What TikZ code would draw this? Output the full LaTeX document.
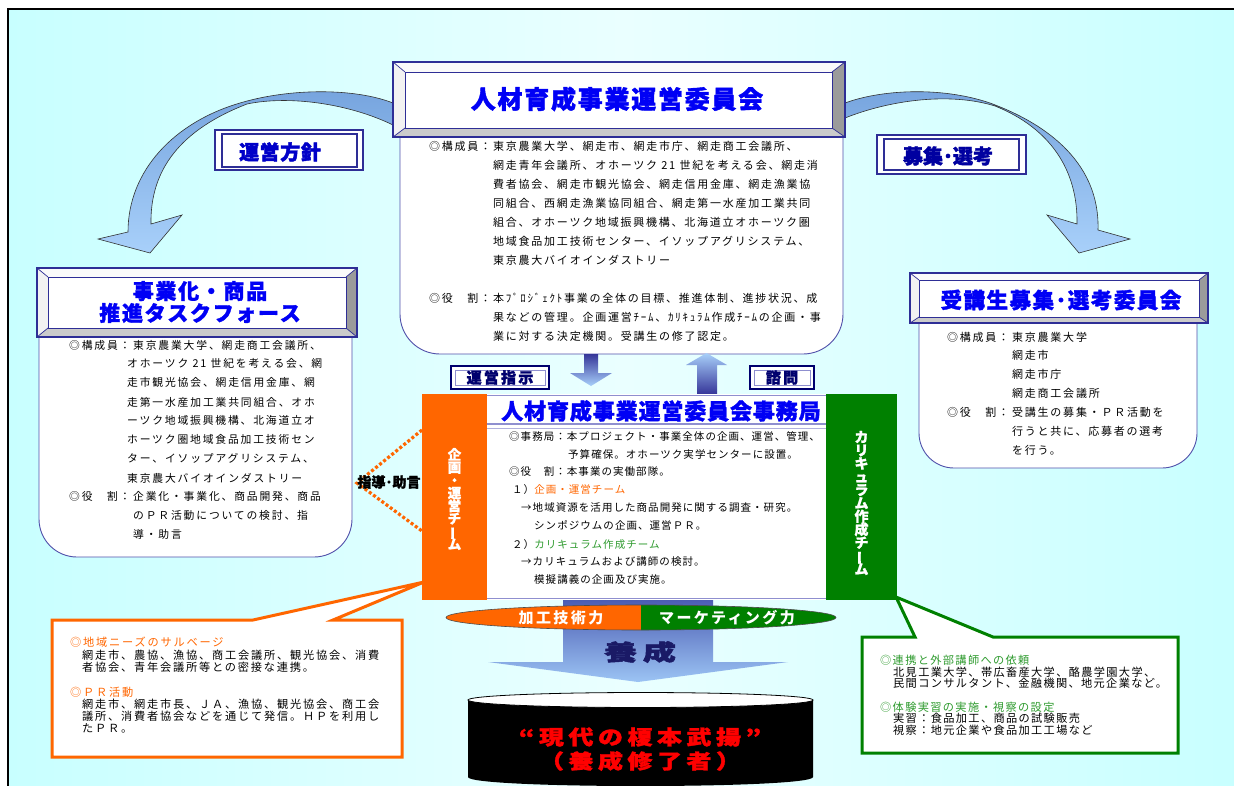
\documentclass[tikz,border=0pt]{standalone}
\usepackage{fontspec}
\usepackage{graphicx}
\setmainfont{Noto Sans CJK JP}
\definecolor{cyA}{HTML}{C8FFFF}
\definecolor{cyB}{HTML}{EAFFFF}
\definecolor{navy}{HTML}{2E2E96}
\definecolor{bline}{HTML}{5050AA}
\definecolor{tblue}{HTML}{0000F5}
\definecolor{orgc}{HTML}{FF6600}
\definecolor{grnc}{HTML}{008000}
\definecolor{grnt}{HTML}{2F9B2F}
\definecolor{arA}{HTML}{76A4DE}
\definecolor{arB}{HTML}{A8D0FA}
\definecolor{dkar}{HTML}{363699}
\definecolor{bevB}{HTML}{CBCBCB}
\definecolor{bevR}{HTML}{9B9B9B}
\definecolor{bevT}{HTML}{FAFAFA}
\definecolor{bevL}{HTML}{F2F2F2}
\definecolor{lav}{HTML}{8F8FCF}
\definecolor{lblue}{HTML}{0000C8}
\definecolor{lnavy}{HTML}{00006E}
\definecolor{ysei}{HTML}{1A1A66}
\definecolor{bigA}{HTML}{4858B0}
\definecolor{bigB}{HTML}{9CC4F4}

\newcounter{tlc}
\newcommand{\TL}[4]{\stepcounter{tlc}\node[#1] (tl\arabic{tlc}) at (#2,#3) {#4};}
\newcommand{\vbar}{\rotatebox[origin=c]{90}{ー}}
\newcommand{\bevbox}[8]{%
  \fill[white] (#1,#2) rectangle (#3,#4);
  \fill[bevT] (#1,#2) -- (#3,#2) -- (#7,#6) -- (#5,#6) -- cycle;
  \fill[bevL] (#1,#2) -- (#5,#6) -- (#5,#8) -- (#1,#4) -- cycle;
  \fill[bevB] (#1,#4) -- (#5,#8) -- (#7,#8) -- (#3,#4) -- cycle;
  \fill[bevR] (#3,#2) -- (#3,#4) -- (#7,#8) -- (#7,#6) -- cycle;
  \draw[navy, line width=0.7] (#1,#2) -- (#5,#6) (#3,#2) -- (#7,#6) (#1,#4) -- (#5,#8) (#3,#4) -- (#7,#8);
  \draw[navy, line width=0.9] (#5,#6) rectangle (#7,#8);
  \draw[navy, line width=1.3] (#1,#2) rectangle (#3,#4);
}

\tikzset{
  tl/.style={anchor=west, inner sep=0pt},
  fA/.style={tl, text height=9.7pt, text depth=1.3pt, font=\fontsize{11}{13}\selectfont\addfontfeature{LetterSpace=16}},
  fL/.style={tl, text height=9.5pt, text depth=1.3pt, font=\fontsize{10.8}{13}\selectfont\addfontfeature{LetterSpace=17}},
  fM/.style={tl, text height=9.2pt, text depth=1.3pt, font=\fontsize{10.5}{12}\selectfont\addfontfeature{LetterSpace=10}},
  fC/.style={tl, text height=9.8pt, text depth=1.3pt, font=\fontsize{11.2}{12}\selectfont\addfontfeature{LetterSpace=16}},
  fG/.style={tl, text height=9.8pt, text depth=1.3pt, font=\fontsize{11.2}{12}\selectfont\addfontfeature{LetterSpace=12}},
  body/.style={draw=bline, line width=0.9, fill=white},
  curvearrow/.style={top color=arA, bottom color=arB, draw=black!80, line width=0.6},
  lbox/.style={draw=navy, line width=1.4, fill=white},
  hbox/.style={draw=lnavy, line width=2.4, fill=white},
  vt/.style={align=center, inner sep=0pt, text=white, font={\fontsize{13.5}{12.8}\selectfont\bfseries\addfontfeature{FakeBold=1.2}\lineskiplimit=-40pt\lineskip=0pt}},
  redt/.style={inner sep=0pt, text=red, font={\fontsize{20}{22}\selectfont\bfseries\addfontfeature{LetterSpace=18,FakeBold=1.5}}}
}

\begin{document}
\begin{tikzpicture}[x=1pt,y=-1pt]
\useasboundingbox (0,0) rectangle (1234,785);
\fill[white] (0,0) rectangle (1234,785);
% background frame
\shade[left color=cyA, right color=cyA, middle color=cyB] (8,9) rectangle (1240,790);
\draw[line width=1.6] (1240,9) -- (8,9) -- (8,790);

% curved arrows
\shadedraw[curvearrow] (393,103) .. controls (355,88) and (290,88) .. (240,103) .. controls (175,122) and (128,170) .. (128,232) -- (98,239) -- (150,253) -- (182,215) -- (151,224) .. controls (150,170) and (180,130) .. (247,104) .. controls (290,95) and (350,104) .. (393,125) -- cycle;
\shadedraw[curvearrow] (845,103) .. controls (880,90) and (940,86) .. (990,103) .. controls (1050,125) and (1100,165) .. (1098,230) -- (1130,239) -- (1079,253) -- (1047,215) -- (1077,224) .. controls (1078,170) and (1050,128) .. (995,106) .. controls (950,92) and (890,100) .. (845,118) -- cycle;

% top committee
\draw[body, rounded corners=40pt] (400,130) -- (400,354) -- (843,354) -- (843,130);
\bevbox{393}{62}{845}{137}{405}{72}{832}{128}
\node[font=\fontsize{25}{28}\selectfont\bfseries\addfontfeature{LetterSpace=7,FakeBold=1.5}, text=tblue] (ttop) at (617,99) {人材育成事業運営委員会};
\TL{fA}{429}{146}{◎構成員：}
\TL{fA}{493}{146}{東京農業大学、網走市、網走市庁、網走商工会議所、}
\TL{fA}{493}{165}{網走青年会議所、オホーツク 21 世紀を考える会、網走消}
\TL{fA}{493}{184}{費者協会、網走市観光協会、網走信用金庫、網走漁業協}
\TL{fA}{493}{203}{同組合、西網走漁業協同組合、網走第一水産加工業共同}
\TL{fA}{493}{222}{組合、オホーツク地域振興機構、北海道立オホーツク圏}
\TL{fA}{493}{241}{地域食品加工技術センター、イソップアグリシステム、}
\TL{fA}{493}{260}{東京農大バイオインダストリー}
\TL{fA}{429}{298}{◎役　割：}
\TL{fA}{493}{298}{本ﾌﾟﾛｼﾞｪｸﾄ事業の全体の目標、推進体制、進捗状況、成}
\TL{fA}{493}{317}{果などの管理。企画運営ﾁｰﾑ、ｶﾘｷｭﾗﾑ作成ﾁｰﾑの企画・事}
\TL{fA}{493}{336}{業に対する決定機関。受講生の修了認定。}

% label boxes on arrows
\draw[lbox] (215,130) rectangle (363,170);
\draw[navy, line width=1.4] (222,134) rectangle (357,167);
\node[font=\fontsize{20}{22}\selectfont\bfseries\addfontfeature{LetterSpace=3,FakeBold=2}, text=lblue] (lb1) at (280,152) {運営方針};
\draw[lbox] (877,135) rectangle (1026,174);
\draw[navy, line width=1.4] (884,139) rectangle (1019,170);
\node[font=\fontsize{20}{22}\selectfont\bfseries\addfontfeature{FakeBold=2}, text=lblue!80!black] (lb2) at (948,156) {募集･選考};

% left task force
\draw[body, rounded corners=38pt] (39,330) -- (39,557) -- (352,557) -- (352,330);
\bevbox{37}{268}{357}{337}{48}{277}{346}{328}
\node[align=center, font=\fontsize{21}{22}\selectfont\bfseries\addfontfeature{LetterSpace=8,FakeBold=1.5}, text=tblue] (tleft) at (200,302) {事業化・商品\\推進タスクフォース};
\TL{fL}{69}{345}{◎構成員：}
\TL{fL}{133}{345}{東京農業大学、網走商工会議所、}
\TL{fL}{127}{363}{オホーツク 21 世紀を考える会、網}
\TL{fL}{127}{382}{走市観光協会、網走信用金庫、網}
\TL{fL}{127}{402}{走第一水産加工業共同組合、オホ}
\TL{fL}{127}{420}{ーツク地域振興機構、北海道立オ}
\TL{fL}{127}{439}{ホーツク圏地域食品加工技術セン}
\TL{fL}{127}{458}{ター、イソップアグリシステム、}
\TL{fL}{127}{478}{東京農大バイオインダストリー}
\TL{fL}{69}{496}{◎役　割：}
\TL{fL}{133}{496}{企業化・事業化、商品開発、商品}
\TL{fL}{133}{515}{のＰＲ活動についての検討、指}
\TL{fL}{133}{534}{導・助言}

% right selection committee
\draw[body, rounded corners=35pt] (919,318) -- (919,468) -- (1197,468) -- (1197,318);
\bevbox{910}{273}{1208}{323}{919}{280}{1199}{317}
\node[font=\fontsize{21.5}{24}\selectfont\bfseries\addfontfeature{LetterSpace=7,FakeBold=1.5}, text=tblue] (tright) at (1061,300) {受講生募集･選考委員会};
\TL{fA}{947}{337}{◎構成員：}
\TL{fA}{1012}{337}{東京農業大学}
\TL{fA}{1012}{355}{網走市}
\TL{fA}{1012}{374}{網走市庁}
\TL{fA}{1012}{393}{網走商工会議所}
\TL{fA}{947}{412}{◎役　割：}
\TL{fA}{1012}{412}{受講生の募集・ＰＲ活動を}
\TL{fA}{1012}{431}{行うと共に、応募者の選考}
\TL{fA}{1012}{450}{を行う。}

% small arrows between committee and office
\shade[top color=dkar, bottom color=arB] (584,354) -- (598,354) -- (598,373) -- (612,373) -- (591,386) -- (570,373) -- (584,373) -- cycle;
\shade[top color=arB, bottom color=dkar] (697,394) -- (697,365) -- (686,365) -- (706.5,353) -- (727,365) -- (717,365) -- (717,394) -- cycle;
\draw[hbox] (451,366) rectangle (549,389);
\draw[lav, line width=0.6] (455,370) rectangle (545,385);
\node[font=\fontsize{15}{16}\selectfont\bfseries\addfontfeature{LetterSpace=15,FakeBold=2}, text=lnavy] (lb3) at (500,377.5) {運営指示};
\draw[hbox] (750,366) rectangle (814,389);
\draw[lav, line width=0.6] (754,370) rectangle (810,385);
\node[font=\fontsize{15}{16}\selectfont\bfseries\addfontfeature{LetterSpace=15,FakeBold=2}, text=lnavy] (lb4) at (782,377.5) {諮問};

% callouts
\draw[orgc, line width=3, fill=white, line join=miter] (52,620) -- (253,620) -- (424,582) -- (333,620) -- (402,620) -- (402,757) -- (52,757) -- cycle;
\TL{fC, text=orgc}{70}{642}{◎地域ニーズのサルベージ}
\TL{fC}{82}{655}{網走市、農協、漁協、商工会議所、観光協会、消費}
\TL{fC}{82}{667}{者協会、青年会議所等との密接な連携。}
\TL{fC, text=orgc}{70}{692}{◎ＰＲ活動}
\TL{fC}{82}{704}{網走市、網走市長、ＪＡ、漁協、観光協会、商工会}
\TL{fC}{82}{716}{議所、消費者協会などを通じて発信。ＨＰを利用し}
\TL{fC}{82}{728}{たＰＲ。}
\draw[grnc, line width=3, fill=white, line join=miter] (862,637) -- (915,637) -- (896,597) -- (993,637) -- (1178,637) -- (1178,753) -- (862,753) -- cycle;
\TL{fG, text=grnt}{880}{660}{◎連携と外部講師への依頼}
\TL{fG}{893}{672}{北見工業大学、帯広畜産大学、酪農学園大学、}
\TL{fG}{893}{683}{民間コンサルタント、金融機関、地元企業など。}
\TL{fG, text=grnt}{880}{707}{◎体験実習の実施・視察の設定}
\TL{fG}{893}{718}{実習：食品加工、商品の試験販売}
\TL{fG}{893}{730}{視察：地元企業や食品加工工場など}

% big arrow
\shade[top color=bigA, bottom color=bigB] (563,596) -- (713,596) -- (713,662) -- (788,662) -- (638,682) -- (488,662) -- (563,662) -- cycle;

% office block
\fill[white] (487,394) rectangle (826,600);
\fill[orgc] (422,394) rectangle (487,600);
\fill[grnc] (826,394) rectangle (897,600);
\draw[lav, line width=1.4] (487,395.5) -- (826,395.5);
\draw[lav, line width=1.6] (487,424) -- (826,424);
\draw[lav!70, line width=0.7] (487,428) -- (826,428);
\draw[lav, line width=1] (487,598.5) -- (826,598.5);
\node[font=\fontsize{22}{24}\selectfont\bfseries\addfontfeature{LetterSpace=4,FakeBold=1.5}, text=tblue] (toff) at (661,411) {人材育成事業運営委員会事務局};
\TL{fM}{509}{437}{◎事務局：本プロジェクト・事業全体の企画、運営、管理、}
\TL{fM}{568}{455}{予算確保。オホーツク実学センターに設置。}
\TL{fM}{509}{472}{◎役　割：本事業の実働部隊。}
\TL{fM}{512}{490}{１）{\color{orgc}企画・運営チーム}}
\TL{fM}{521}{508}{→地域資源を活用した商品開発に関する調査・研究。}
\TL{fM}{534}{526}{シンポジウムの企画、運営ＰＲ。}
\TL{fM}{512}{545}{２）{\color{grnt}カリキュラム作成チーム}}
\TL{fM}{521}{562}{→カリキュラムおよび講師の検討。}
\TL{fM}{534}{580}{模擬講義の企画及び実施。}
\node[vt] (vorg) at (454.5,499) {企\\画\\・\\運\\営\\チ\\\vbar\\ム};
\node[vt, font={\fontsize{14}{13.2}\selectfont\bfseries\addfontfeature{FakeBold=1.2}\lineskiplimit=-40pt\lineskip=0pt}] (vgrn) at (861.5,503) {カ\\リ\\キ\\ュ\\ラ\\ム\\作\\成\\チ\\\vbar\\ム};

% dotted advice chevron
\coordinate (apex) at (357,483);
\draw[orgc, line width=3.2, dash pattern=on 3pt off 2.2pt] (422,430) -- (apex) -- (422,531);
\node[font=\fontsize{14}{15}\selectfont\bfseries\addfontfeature{FakeBold=2}, text=black] (adv) at (389,482) {指導･助言};

% ellipse
\fill[orgc] (641,630) arc[start angle=90, end angle=270, x radius=195, y radius=12.5] -- cycle;
\fill[grnc] (641,630) arc[start angle=90, end angle=-90, x radius=195, y radius=12.5] -- cycle;
\draw[black!70, line width=0.6] (641,617.5) ellipse[x radius=195, y radius=12.5];
\node[font=\fontsize{15}{16}\selectfont\bfseries\addfontfeature{LetterSpace=16}, text=white] (sk1) at (561,617.5) {加工技術力};
\node[font=\fontsize{15}{16}\selectfont\bfseries\addfontfeature{LetterSpace=16}, text=white] (sk2) at (727,617.5) {マーケティング力};
\node[font=\fontsize{22}{24}\selectfont\bfseries\addfontfeature{LetterSpace=18,FakeBold=2}, text=ysei] (ysei) at (640,652) {\scalebox{1.5}[1]{養成}};

% drum
\fill[black] (468,700) -- (468,777) .. controls (468,789) and (813,789) .. (813,777) -- (813,700) -- cycle;
\draw[fill=white, line width=0.8] (640.5,700) ellipse[x radius=172.5, y radius=7.5];
\node[redt] (grad1) at (640,737) {\scalebox{1.25}[1]{“現代の榎本武揚”}};
\node[redt] (grad2) at (640,761) {\scalebox{1.25}[1]{（養成修了者）}};
\end{tikzpicture}
\end{document}
